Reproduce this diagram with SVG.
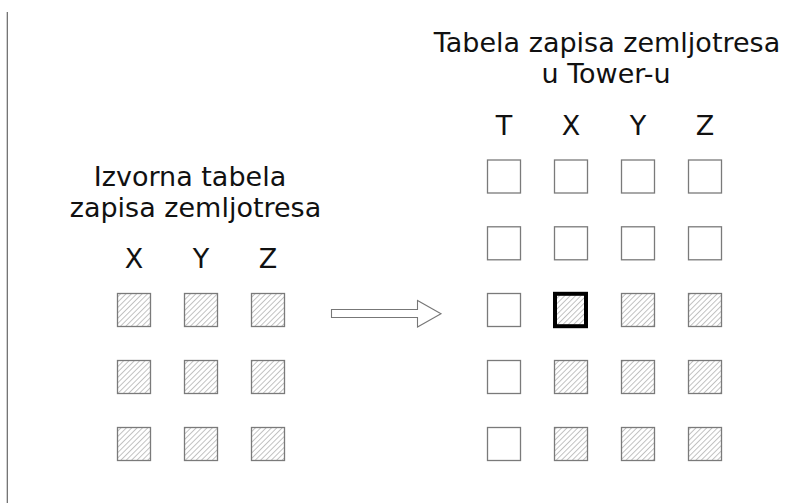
<svg xmlns="http://www.w3.org/2000/svg" width="789" height="503" viewBox="0 0 789 503">
  <defs>
    <pattern id="hatch" patternUnits="userSpaceOnUse" width="3.8" height="3.8" patternTransform="rotate(45)">
      <line x1="0.5" y1="0" x2="0.5" y2="3.8" stroke="#a8a8a8" stroke-width="0.7"/>
    </pattern>
    <style>
      .lbl { font-family: "DejaVu Sans", Verdana, sans-serif; font-size: 27px; fill: #111; text-anchor: middle; }
      .cell { fill: #fff; stroke: #7a7a7a; stroke-width: 1.3; }
      .cell.h { fill: url(#hatch); }
      .cell.sel { stroke: #000; stroke-width: 4; }
      .conn { fill: #fff; stroke: #777; stroke-width: 1.1; }
    </style>
  </defs>
  <rect width="789" height="503" fill="#fff"/>

  <!-- page margin rule -->
  <line x1="7.3" y1="12" x2="7.3" y2="503" stroke="#666" stroke-width="1.2"/>

  <!-- source table -->
  <g id="source-table">
    <text class="lbl" x="190" y="186">Izvorna tabela</text>
    <text class="lbl" x="195.5" y="217">zapisa zemljotresa</text>
    <text class="lbl" x="134" y="268">X</text>
    <text class="lbl" x="201" y="268">Y</text>
    <text class="lbl" x="268" y="268">Z</text>
    <g id="src-r1">
      <rect class="cell h" x="117.5" y="293.5" width="33" height="33"/>
      <rect class="cell h" x="184.5" y="293.5" width="33" height="33"/>
      <rect class="cell h" x="251.5" y="293.5" width="33" height="33"/>
    </g>
    <g id="src-r2">
      <rect class="cell h" x="117.5" y="360.5" width="33" height="33"/>
      <rect class="cell h" x="184.5" y="360.5" width="33" height="33"/>
      <rect class="cell h" x="251.5" y="360.5" width="33" height="33"/>
    </g>
    <g id="src-r3">
      <rect class="cell h" x="117.5" y="427.5" width="33" height="33"/>
      <rect class="cell h" x="184.5" y="427.5" width="33" height="33"/>
      <rect class="cell h" x="251.5" y="427.5" width="33" height="33"/>
    </g>
  </g>

  <!-- target table -->
  <g id="tower-table">
    <text class="lbl" x="607" y="52">Tabela zapisa zemljotresa</text>
    <text class="lbl" x="606" y="83">u Tower-u</text>
    <text class="lbl" x="504" y="135">T</text>
    <text class="lbl" x="571" y="135">X</text>
    <text class="lbl" x="638" y="135">Y</text>
    <text class="lbl" x="705" y="135">Z</text>
    <g id="twr-r1">
      <rect class="cell" x="487.5" y="160" width="33" height="33"/>
      <rect class="cell" x="554.5" y="160" width="33" height="33"/>
      <rect class="cell" x="621.5" y="160" width="33" height="33"/>
      <rect class="cell" x="688.5" y="160" width="33" height="33"/>
    </g>
    <g id="twr-r2">
      <rect class="cell" x="487.5" y="226.8" width="33" height="33"/>
      <rect class="cell" x="554.5" y="226.8" width="33" height="33"/>
      <rect class="cell" x="621.5" y="226.8" width="33" height="33"/>
      <rect class="cell" x="688.5" y="226.8" width="33" height="33"/>
    </g>
    <g id="twr-r3">
      <rect class="cell" x="487.5" y="293.5" width="33" height="33"/>
      <rect class="cell h sel" x="555" y="293.8" width="31" height="32.4"/>
      <rect class="cell h" x="621.5" y="293.5" width="33" height="33"/>
      <rect class="cell h" x="688.5" y="293.5" width="33" height="33"/>
    </g>
    <g id="twr-r4">
      <rect class="cell" x="487.5" y="360.5" width="33" height="33"/>
      <rect class="cell h" x="554.5" y="360.5" width="33" height="33"/>
      <rect class="cell h" x="621.5" y="360.5" width="33" height="33"/>
      <rect class="cell h" x="688.5" y="360.5" width="33" height="33"/>
    </g>
    <g id="twr-r5">
      <rect class="cell" x="487.5" y="427.5" width="33" height="33"/>
      <rect class="cell h" x="554.5" y="427.5" width="33" height="33"/>
      <rect class="cell h" x="621.5" y="427.5" width="33" height="33"/>
      <rect class="cell h" x="688.5" y="427.5" width="33" height="33"/>
    </g>
  </g>

  <!-- transfer arrow -->
  <g id="connectors">
    <polygon class="conn" points="331.5,309.5 417.5,309.5 417.5,300.5 441,313.8 417.5,327 417.5,317.5 331.5,317.5"/>
  </g>
</svg>
